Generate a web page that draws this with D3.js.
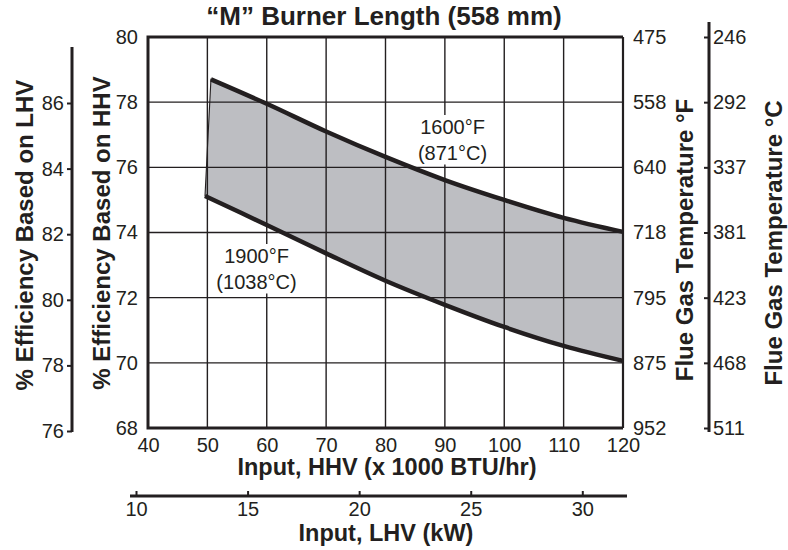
<!DOCTYPE html>
<html>
<head>
<meta charset="utf-8">
<script src="https://cdn.jsdelivr.net/npm/d3@7"></script>
<style>
  html, body { margin: 0; padding: 0; background: #fff; }
  svg { display: block; font-family: "Liberation Sans", Arial, Helvetica, sans-serif; }
</style>
</head>
<body>
<svg id="chart" width="788" height="550"></svg>
<script>
// ---- data ----
const hhvTicks = [40, 50, 60, 70, 80, 90, 100, 110, 120];
const effHHVTicks = [68, 70, 72, 74, 76, 78, 80];
const effLHVTicks = [76, 78, 80, 82, 84, 86];
const flueFTicks = [952, 875, 795, 718, 640, 558, 475];
const flueCTicks = [511, 468, 423, 381, 337, 292, 246];
const lhvKwTicks = [10, 15, 20, 25, 30];

// 1600°F (871°C) boundary
const upperInput = [50.6, 60, 70, 80, 90, 100, 110, 120];
const upperEff   = [78.7, 77.95, 77.1, 76.32, 75.61, 75.0, 74.45, 74.02];
// 1900°F (1038°C) boundary
const lowerInput = [49.6, 60, 70, 80, 90, 100, 110, 120];
const lowerEff   = [75.12, 74.23, 73.36, 72.52, 71.78, 71.1, 70.52, 70.06];

const title = "\u201CM\u201D Burner Length (558 mm)";
const ink = "#231f20";

// ---- layout ----
const L = 148, R = 623, T = 37, B = 428;
const svg = d3.select("#chart");

const x = d3.scaleLinear().domain([40, 120]).range([L, R]);
const y = d3.scaleLinear().domain([68, 80]).range([B, T]);
const yLHV = d3.scaleLinear().domain([76, 86]).range([431, 103]);
const yF = d3.scaleLinear().domain(flueFTicks).range(effHHVTicks.map(y));
const yC = d3.scaleLinear().domain(flueCTicks).range(effHHVTicks.map(y));
const xKw = d3.scaleLinear().domain([10, 30]).range([136, 582.3]);

const upper = upperInput.map((v, i) => [x(v), y(upperEff[i])]);
const lower = lowerInput.map((v, i) => [x(v), y(lowerEff[i])]);
const curve = d3.curveCatmullRom.alpha(0.5);
const line = d3.line().curve(curve);

// shaded band
const bandPath = line(upper) + "L" + line(lower.slice().reverse()).slice(1) + "Z";
svg.append("path").attr("d", bandPath)
  .attr("fill", "#bdbec2").attr("stroke", ink).attr("stroke-width", 1.1);

// grid
const g = svg.append("g").attr("stroke", ink).attr("stroke-width", 1.4);
g.selectAll("line.v").data(hhvTicks.slice(1, -1)).join("line")
  .attr("x1", d => x(d)).attr("x2", d => x(d)).attr("y1", T).attr("y2", B);
g.selectAll("line.h").data(effHHVTicks.slice(1, -1)).join("line")
  .attr("y1", d => y(d)).attr("y2", d => y(d)).attr("x1", L).attr("x2", R);

// curve labels with white backgrounds
function label(cx, cy, lines) {
  const grp = svg.append("g");
  const t = grp.append("text").attr("text-anchor", "middle")
    .attr("font-size", 20).attr("fill", ink);
  lines.forEach((s, i) => t.append("tspan").attr("x", cx).attr("y", cy + i * 25.5).text(s));
  const bb = t.node().getBBox();
  grp.insert("rect", "text").attr("x", bb.x - 2).attr("y", bb.y - 1)
    .attr("width", bb.width + 4).attr("height", bb.height + 2).attr("fill", "#fff");
}
label(452.5, 134, ["1600\u00B0F", "(871\u00B0C)"]);
label(256.5, 263, ["1900\u00B0F", "(1038\u00B0C)"]);

// boundary curves
svg.append("path").attr("d", line(upper)).attr("fill", "none")
  .attr("stroke", ink).attr("stroke-width", 4.5);
svg.append("path").attr("d", line(lower)).attr("fill", "none")
  .attr("stroke", ink).attr("stroke-width", 4.5);

// plot frame
svg.append("path")
  .attr("d", `M${R},${T}H${L}V${B}H${R}`)
  .attr("fill", "none").attr("stroke", ink).attr("stroke-width", 3);
svg.append("line").attr("x1", R).attr("x2", R).attr("y1", T).attr("y2", B)
  .attr("stroke", ink).attr("stroke-width", 2.2);

function styleAxis(sel, fs) {
  sel.selectAll("text").attr("font-size", fs).attr("fill", ink)
    .attr("font-family", "Liberation Sans, Arial, sans-serif");
  sel.selectAll("line").attr("stroke", ink).attr("stroke-width", 2);
  sel.select(".domain").remove();
}

// HHV x axis (labels only)
svg.append("g").attr("transform", `translate(0,${B})`)
  .call(d3.axisBottom(x).tickValues(hhvTicks).tickSize(0).tickPadding(9.5))
  .call(s => styleAxis(s, 20));

// HHV efficiency (labels only)
svg.append("g").attr("transform", `translate(${L},0)`)
  .call(d3.axisLeft(y).tickValues(effHHVTicks).tickSize(0).tickPadding(10))
  .call(s => styleAxis(s, 20));

// LHV efficiency axis
const lhvX = 72;
svg.append("line").attr("x1", lhvX).attr("x2", lhvX).attr("y1", 47).attr("y2", 432)
  .attr("stroke", ink).attr("stroke-width", 3);
svg.append("g").attr("transform", `translate(${lhvX},0)`)
  .call(d3.axisLeft(yLHV).tickValues(effLHVTicks).tickSize(5).tickPadding(3))
  .call(s => styleAxis(s, 20));

// Flue gas °F (labels only)
svg.append("g").attr("transform", `translate(${R},0)`)
  .call(d3.axisRight(yF).tickValues(flueFTicks).tickSize(0).tickPadding(10))
  .call(s => styleAxis(s, 20));

// Flue gas °C axis
const cX = 709;
svg.append("line").attr("x1", cX).attr("x2", cX).attr("y1", 22).attr("y2", 432)
  .attr("stroke", ink).attr("stroke-width", 3);
svg.append("g").attr("transform", `translate(${cX},0)`)
  .call(d3.axisRight(yC).tickValues(flueCTicks).tickSize(-5).tickPadding(4))
  .call(s => styleAxis(s, 20));

// LHV kW axis
const kwY = 496;
svg.append("line").attr("x1", 130).attr("x2", 627).attr("y1", kwY).attr("y2", kwY)
  .attr("stroke", ink).attr("stroke-width", 3);
svg.append("g").attr("transform", `translate(0,${kwY})`)
  .call(d3.axisBottom(xKw).tickValues(lhvKwTicks).tickSize(-5).tickPadding(5.5))
  .call(s => styleAxis(s, 20));

// titles
const bold = (sel) => sel.attr("font-weight", "bold").attr("fill", ink).attr("text-anchor", "middle");
svg.append("text").attr("x", 384).attr("y", 25).attr("font-size", 26).call(bold).text(title);
svg.append("text").attr("x", 387).attr("y", 475).attr("font-size", 23.5).call(bold)
  .text("Input, HHV (x 1000 BTU/hr)");
svg.append("text").attr("x", 386).attr("y", 541).attr("font-size", 23.5).call(bold)
  .text("Input, LHV (kW)");

function vtitle(bx, cy, txt) {
  svg.append("text").attr("transform", `translate(${bx},${cy}) rotate(-90)`)
    .attr("font-size", 24).call(bold).text(txt);
}
vtitle(33, 235, "% Efficiency Based on LHV");
vtitle(110, 233, "% Efficiency Based on HHV");
vtitle(693, 240, "Flue Gas Temperature \u00B0F");
vtitle(782, 243, "Flue Gas Temperature \u00B0C");
</script>
</body>
</html>
